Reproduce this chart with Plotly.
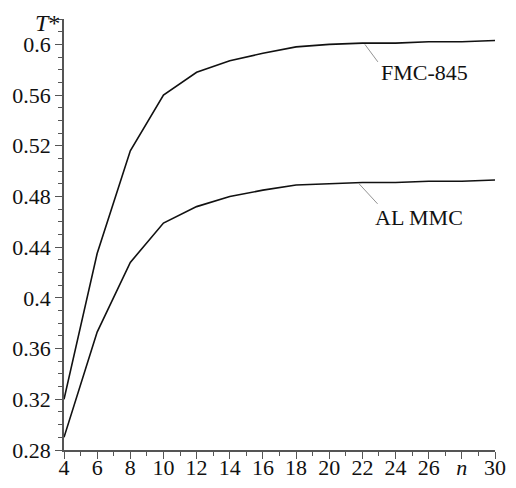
import plotly.graph_objects as go

n_vals = [4, 6, 8, 10, 12, 14, 16, 18, 20, 22, 24, 26, 28, 30]
fmc_845 = [0.320, 0.435, 0.516, 0.560, 0.578, 0.587, 0.593, 0.598, 0.600, 0.601, 0.601, 0.602, 0.602, 0.603]
al_mmc = [0.290, 0.373, 0.428, 0.459, 0.472, 0.480, 0.485, 0.489, 0.490, 0.491, 0.491, 0.492, 0.492, 0.493]

x_tickvals = [4, 6, 8, 10, 12, 14, 16, 18, 20, 22, 24, 26, 28, 30]
x_ticktext = ["4", "6", "8", "10", "12", "14", "16", "18", "20", "22", "24", "26", "<i>n</i>", "30"]
y_tickvals = [0.28, 0.32, 0.36, 0.40, 0.44, 0.48, 0.52, 0.56, 0.60]
y_ticktext = ["0.28", "0.32", "0.36", "0.4", "0.44", "0.48", "0.52", "0.56", "0.6"]

font_family = "'Liberation Serif', 'DejaVu Serif', serif"
axis_color = "#555555"
fs = 22

fig = go.Figure()
fig.add_trace(go.Scatter(x=n_vals, y=fmc_845, mode="lines", line=dict(color="#111111", width=1.6), name="FMC-845"))
fig.add_trace(go.Scatter(x=n_vals, y=al_mmc, mode="lines", line=dict(color="#111111", width=1.6), name="AL MMC"))

fig.update_layout(
    width=508, height=480,
    margin=dict(l=56, r=21, t=11, b=38),
    paper_bgcolor="white", plot_bgcolor="white",
    showlegend=False,
    font=dict(family=font_family, size=fs, color="#111111"),
    xaxis=dict(
        range=[4, 30], tickvals=x_tickvals, ticktext=x_ticktext,
        automargin=False,
        showgrid=False, zeroline=False,
        showline=True, linecolor=axis_color, linewidth=1.5,
        ticks="outside", ticklen=7, tickcolor=axis_color, tickwidth=1,
        ticklabelstandoff=-10,
        minor=dict(dtick=1, ticks="outside", ticklen=4, tickcolor=axis_color, tickwidth=1),
        tickfont=dict(family=font_family, size=fs, color="#111111"),
    ),
    yaxis=dict(
        range=[0.28, 0.62], tickvals=y_tickvals, ticktext=y_ticktext,
        automargin=False,
        showgrid=False, zeroline=False,
        showline=True, linecolor=axis_color, linewidth=1.5,
        ticks="outside", ticklen=7, tickcolor=axis_color, tickwidth=1,
        minor=dict(tickvals=[round(0.28 + 0.01 * i, 2) for i in range(35)], ticks="outside", ticklen=4, tickcolor=axis_color, tickwidth=1),
        tickfont=dict(family=font_family, size=fs, color="#111111"),
    ),
)

fig.add_annotation(
    xref="paper", yref="paper", x=0, y=1.0, xanchor="right", yanchor="top",
    text="<i>T</i>*", showarrow=False, xshift=-2, yshift=11,
    font=dict(family=font_family, size=24, color="#111111"),
)

fig.add_annotation(
    x=22.15, y=0.600, ax=23.0, ay=0.585, axref="x", ayref="y",
    text="", showarrow=True, arrowhead=0, arrowwidth=0.8, arrowcolor="#777777",
)
fig.add_annotation(
    x=23.0, y=0.578, xanchor="left", yanchor="middle", text="FMC-845", showarrow=False,
    font=dict(family=font_family, size=fs, color="#111111"),
)
fig.add_annotation(
    x=21.8, y=0.490, ax=23.0, ay=0.473, axref="x", ayref="y",
    text="", showarrow=True, arrowhead=0, arrowwidth=0.8, arrowcolor="#777777",
)
fig.add_annotation(
    x=22.65, y=0.4635, xanchor="left", yanchor="middle", text="AL MMC", showarrow=False,
    font=dict(family=font_family, size=fs, color="#111111"),
)

fig.write_html("out.html")
